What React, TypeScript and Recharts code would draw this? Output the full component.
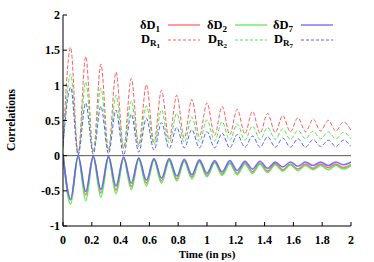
import { LineChart, Line, XAxis, YAxis, ReferenceLine } from 'recharts';

// time axis (ps) — samples at each crest / trough of the oscillation
const time = [
  0, 0.053, 0.105, 0.158, 0.21, 0.263, 0.316, 0.368, 0.421, 0.474,
  0.526, 0.579, 0.632, 0.684, 0.737, 0.79, 0.842, 0.895, 0.947, 1.0,
  1.053, 1.105, 1.158, 1.21, 1.263, 1.316, 1.368, 1.421, 1.474, 1.526,
  1.579, 1.632, 1.684, 1.737, 1.789, 1.842, 1.895, 1.947, 2.0,
];

const deltaD1 = [
  0.03, -0.63, -0.01, -0.56, -0.01, -0.53, -0.02, -0.49, -0.03, -0.44,
  -0.04, -0.39, -0.05, -0.36, -0.06, -0.33, -0.07, -0.3, -0.08, -0.28,
  -0.09, -0.26, -0.1, -0.25, -0.1, -0.23, -0.11, -0.22, -0.11, -0.2,
  -0.12, -0.19, -0.12, -0.18, -0.12, -0.17, -0.12, -0.17, -0.13,
];
const deltaD2 = [
  0.02, -0.69, -0.01, -0.64, -0.02, -0.59, -0.03, -0.54, -0.04, -0.48,
  -0.05, -0.43, -0.06, -0.39, -0.07, -0.36, -0.08, -0.33, -0.09, -0.3,
  -0.1, -0.28, -0.11, -0.27, -0.12, -0.25, -0.12, -0.24, -0.13, -0.22,
  -0.13, -0.21, -0.14, -0.2, -0.14, -0.2, -0.14, -0.19, -0.14,
];
const deltaD7 = [
  0.0, -0.62, 0.0, -0.51, -0.01, -0.48, -0.01, -0.43, -0.02, -0.39,
  -0.03, -0.35, -0.04, -0.32, -0.04, -0.29, -0.05, -0.27, -0.06, -0.25,
  -0.07, -0.23, -0.07, -0.21, -0.08, -0.19, -0.08, -0.18, -0.09, -0.16,
  -0.09, -0.15, -0.09, -0.14, -0.09, -0.14, -0.09, -0.13, -0.09,
];
const dR1 = [
  0.12, 1.54, 0.03, 1.41, 0.05, 1.3, 0.08, 1.19, 0.11, 1.1,
  0.15, 1.01, 0.19, 0.93, 0.23, 0.86, 0.25, 0.8, 0.27, 0.75,
  0.29, 0.7, 0.3, 0.66, 0.31, 0.63, 0.32, 0.6, 0.33, 0.57,
  0.34, 0.54, 0.34, 0.52, 0.35, 0.5, 0.35, 0.48, 0.36,
];
const dR2 = [
  0.1, 1.16, 0.03, 1.05, 0.05, 0.96, 0.07, 0.86, 0.1, 0.78,
  0.13, 0.71, 0.16, 0.65, 0.18, 0.6, 0.19, 0.55, 0.2, 0.51,
  0.21, 0.48, 0.22, 0.45, 0.22, 0.42, 0.23, 0.4, 0.23, 0.38,
  0.23, 0.36, 0.24, 0.35, 0.24, 0.34, 0.24, 0.33, 0.24,
];
const dR7 = [
  0.15, 0.97, 0.01, 0.75, 0.02, 0.7, 0.03, 0.65, 0.01, 0.59,
  0.05, 0.53, 0.08, 0.47, 0.1, 0.4, 0.11, 0.37, 0.11, 0.34,
  0.11, 0.32, 0.11, 0.3, 0.12, 0.28, 0.12, 0.27, 0.12, 0.25,
  0.12, 0.24, 0.12, 0.23, 0.13, 0.22, 0.13, 0.22, 0.13,
];

const xTicks = [0, 0.2, 0.4, 0.6, 0.8, 1, 1.2, 1.4, 1.6, 1.8, 2];
const yTicks = [-1, -0.5, 0, 0.5, 1, 1.5, 2];

const RED = '#ff5c5c';
const GREEN = '#4ee84e';
const BLUE = '#5c5cff';
const FONT = '"Liberation Serif", "DejaVu Serif", serif';

const data = time.map((t, i) => ({
  t,
  deltaD1: deltaD1[i],
  deltaD2: deltaD2[i],
  deltaD7: deltaD7[i],
  dR1: dR1[i],
  dR2: dR2[i],
  dR7: dR7[i],
}));

const series = [
  { key: 'deltaD1', color: RED, dashed: false, main: 'δD', sub: '1' },
  { key: 'deltaD2', color: GREEN, dashed: false, main: 'δD', sub: '2' },
  { key: 'deltaD7', color: BLUE, dashed: false, main: 'δD', sub: '7' },
  { key: 'dR1', color: RED, dashed: true, main: 'D', sub: 'R', subsub: '1' },
  { key: 'dR2', color: GREEN, dashed: true, main: 'D', sub: 'R', subsub: '2' },
  { key: 'dR7', color: BLUE, dashed: true, main: 'D', sub: 'R', subsub: '7' },
];

const tickStyle = { fontFamily: FONT, fontWeight: 700, fontSize: 12, fill: '#000' };

function ChartLegend() {
  const colEnd = [160, 227, 293];
  return (
    <svg width={374} height={60} style={{ position: 'absolute', left: 0, top: 0 }}>
      {series.map((s, i) => {
        const col = i % 3;
        const row = Math.floor(i / 3);
        const base = row === 0 ? 29 : 43;
        const lineY = row === 0 ? 25 : 40;
        const x = colEnd[col];
        return (
          <g key={s.key}>
            <text x={x} y={base} textAnchor="end" fontFamily={FONT} fontWeight={700} fontSize={12.5}>
              {s.main}
              <tspan fontSize={9} dy={3}>{s.sub}</tspan>
              {s.subsub ? <tspan fontSize={7} dy={2}>{s.subsub}</tspan> : null}
            </text>
            <line
              x1={x + 8}
              x2={x + 40}
              y1={lineY}
              y2={lineY}
              stroke={s.color}
              strokeWidth={s.dashed ? 1 : 2}
              strokeDasharray={s.dashed ? '3 2' : undefined}
              opacity={s.dashed ? 1 : 0.6}
            />
          </g>
        );
      })}
    </svg>
  );
}

function YLabel() {
  return (
    <text x={15} y={120} transform="rotate(-90 15 120)" textAnchor="middle"
      fontFamily={FONT} fontWeight={700} fontSize={11.5}>
      Correlations
    </text>
  );
}

export default function App() {
  return (
    <div style={{ position: 'absolute', left: 0, top: 0, width: 374, height: 262 }}>
      <LineChart width={374} height={262} data={data} margin={{ top: 15, right: 23, bottom: 0, left: 0 }}>
        <XAxis
          dataKey="t"
          type="number"
          domain={[0, 2]}
          ticks={xTicks}
          allowDataOverflow
          height={36}
          tickSize={-4}
          tickMargin={13}
          tick={tickStyle}
          stroke="#000"
          label={{ value: 'Time (in ps)', position: 'insideBottom', offset: 4, style: { fontFamily: FONT, fontWeight: 700, fontSize: 11, fill: '#000' } }}
        />
        <XAxis
          xAxisId="top"
          orientation="top"
          dataKey="t"
          type="number"
          domain={[0, 2]}
          ticks={xTicks}
          height={0}
          tickSize={-4}
          tickFormatter={() => ''}
          stroke="#000"
        />
        <YAxis
          type="number"
          domain={[-1, 2]}
          ticks={yTicks}
          allowDataOverflow
          width={63}
          tickSize={-4}
          tickMargin={7}
          tick={tickStyle}
          stroke="#000"
          label={<YLabel />}
        />
        <YAxis
          yAxisId="right"
          orientation="right"
          type="number"
          domain={[-1, 2]}
          ticks={yTicks}
          width={0}
          tickSize={-4}
          tickFormatter={() => ''}
          stroke="#000"
        />
        <ReferenceLine y={0} stroke="#555" strokeWidth={1} />
        {series.map((s) => (
          <Line
            key={s.key}
            dataKey={s.key}
            type="monotone"
            stroke={s.color}
            strokeWidth={s.dashed ? 1 : 1.6}
            strokeOpacity={s.dashed ? 1 : 0.85}
            strokeDasharray={s.dashed ? '4 2' : undefined}
            dot={false}
            activeDot={false}
            isAnimationActive={false}
          />
        ))}
      </LineChart>
      <ChartLegend />
    </div>
  );
}
